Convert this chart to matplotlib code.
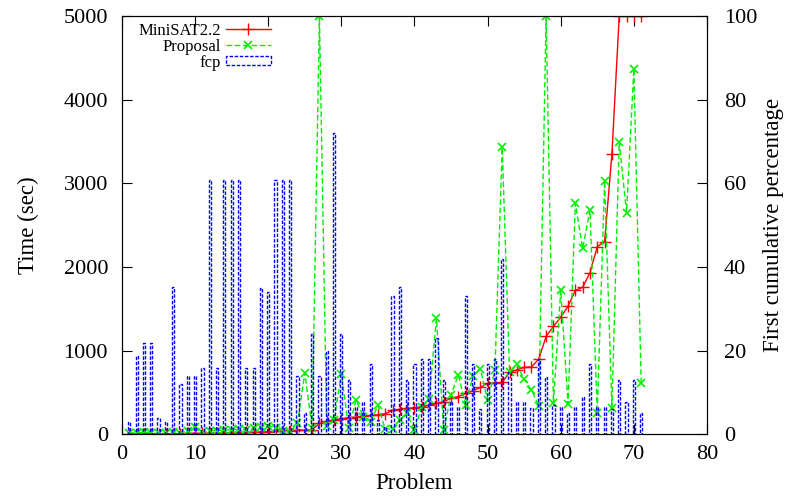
import numpy as np
import matplotlib.pyplot as plt
from matplotlib.lines import Line2D
from matplotlib.patches import Patch

plt.rcParams['font.family'] = ['Liberation Serif', 'DejaVu Serif']

# problem index
problems = np.arange(1, 72)

# MiniSAT2.2 time (sec)
minisat = [5, 5, 5, 6, 6, 7, 8, 8, 10, 10,
           12, 14, 15, 17, 18, 20, 22, 25, 28, 30,
           35, 40, 45, 50, 50, 55, 130, 155, 175, 185,
           200, 205, 215, 225, 235, 245, 285, 300, 310, 315,
           330, 345, 370, 390, 430, 450, 490, 520, 560, 610,
           615, 620, 740, 770, 800, 805, 900, 1170, 1290, 1400,
           1530, 1720, 1757, 1932, 2243, 2302, 3350, 5000, 5000, 5000,
           5000]

# Proposal time (sec)
proposal = [20, 15, 25, 20, 10, 15, 30, 20, 40, 90,
            30, 40, 45, 50, 55, 60, 50, 70, 90, 100,
            80, 40, 30, 130, 736, 72, 5000, 100, 170, 725,
            70, 410, 210, 150, 345, 60, 65, 170, 250, 50,
            330, 420, 1385, 50, 470, 710, 350, 700, 785, 405,
            765, 3430, 748, 840, 657, 530, 340, 5000, 375, 1725,
            362, 2760, 2223, 2681, 258, 3031, 311, 3497, 2650, 4371,
            617]

# fcp: first cumulative percentage (%)
fcp = [3.0, 18.7, 21.9, 21.9, 3.8, 3.0, 35.1, 12.0, 13.9, 13.9,
       15.8, 60.8, 15.9, 60.8, 60.8, 60.8, 15.9, 15.9, 35.0, 33.9,
       60.8, 60.8, 60.8, 13.9, 5.0, 24.0, 13.9, 20.0, 72.0, 24.0,
       13.0, 6.6, 7.8, 16.8, 3.4, 1.8, 33.0, 35.1, 13.0, 16.8,
       17.9, 17.9, 23.0, 13.0, 7.8, 6.5, 33.0, 16.8, 6.0, 16.8,
       17.9, 42.0, 15.0, 7.8, 7.8, 6.2, 18.0, 13.8, 7.0, 6.5,
       5.0, 6.5, 9.0, 16.8, 6.5, 6.5, 6.0, 13.0, 7.8, 13.0,
       5.0]

fig = plt.figure(figsize=(7.85, 5), dpi=100)
ax = fig.add_axes([0.1554, 0.1314, 0.7452, 0.8366])
ax2 = ax.twinx()

ax.plot(problems, minisat, color='#ff0000', lw=1, marker='+', ms=8, mew=1)
ax.plot(problems, proposal, color='#00f000', lw=1, ls=(0, (4, 2)),
        marker='x', ms=6, mew=1.2)

ax2.bar(problems, fcp, width=0.3, fill=False, edgecolor='#0000ff',
        lw=1, ls=(0, (2.5, 1.2)))

ax.set_xlim(0, 80)
ax.set_ylim(0, 5000)
ax2.set_ylim(0, 100)
ax.set_xticks(range(0, 81, 10))
ax.set_yticks(range(0, 5001, 1000))
ax2.set_yticks(range(0, 101, 20))

ax.tick_params(direction='in', top=True, right=False, length=7,
               labelsize=16, pad=8)
ax.tick_params(axis='y', pad=10)
ax2.tick_params(direction='in', length=7, labelsize=16, pad=12)

ax.set_xlabel('Problem', fontsize=16.5, labelpad=6)
ax.set_ylabel('Time (sec)', fontsize=16.5, labelpad=18)
ax2.set_ylabel('First cumulative percentage', fontsize=16.5, labelpad=4)

handles = [Line2D([], [], color='#ff0000', lw=1, marker='+', ms=8, mew=1),
           Line2D([], [], color='#00f000', lw=1, ls=(0, (4, 2)),
                  marker='x', ms=6, mew=1.2),
           Patch(fill=False, edgecolor='#0000ff', lw=1, ls=(0, (2.5, 1.2)))]
ax2.legend(handles, ['MiniSAT2.2', 'Proposal', 'fcp'], loc='upper right',
           bbox_to_anchor=(0.274, 1.012), frameon=False, markerfirst=False,
           fontsize=12, handlelength=2.7, handletextpad=0.3,
           labelspacing=0.0, borderpad=0.2, handleheight=0.5)

fig.savefig('out.png', dpi=100)
